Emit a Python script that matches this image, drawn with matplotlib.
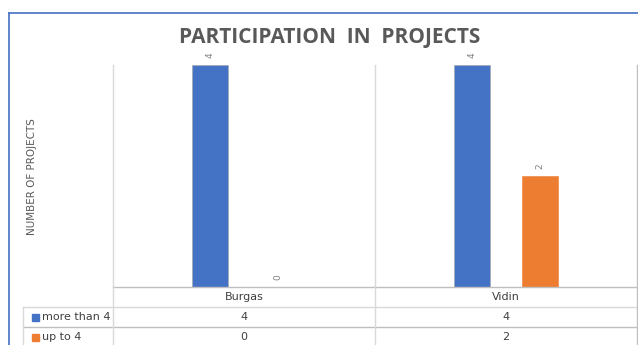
import matplotlib
matplotlib.use("Agg")
import matplotlib.pyplot as plt
from matplotlib.lines import Line2D
import numpy as np

categories = ["Burgas", "Vidin"]
series_names = ["more than 4", "up to 4"]
more_than_4 = [4, 4]
up_to_4 = [0, 2]
colors = ["#4472C4", "#ED7D31"]

W, H = 638, 345
fig = plt.figure(figsize=(W / 100, H / 100), dpi=100)

def fx(px):
    return px / W

def fy(py):
    return 1 - py / H

# plot area
x0, x1, y0, y1 = 113, 637, 65, 287
ax = fig.add_axes([fx(x0), fy(y1), fx(x1) - fx(x0), fy(y0) - fy(y1)])
ax.set_xlim(-0.5, len(categories) - 0.5)
ax.set_ylim(0, 4)
for s in ax.spines.values():
    s.set_visible(False)
ax.set_xticks([])
ax.set_yticks([])
ax.patch.set_alpha(0)

x = np.arange(len(categories))
bw = 0.137
offs = [-0.13, 0.13]
for vals, c, o in zip([more_than_4, up_to_4], colors, offs):
    ax.bar(x + o, vals, width=bw, color=c,
           edgecolor="#a6a6a6" if c == colors[0] else c, linewidth=0.4, zorder=2)
    for xi, v in zip(x + o, vals):
        ax.annotate(str(v), (xi, v), xytext=(0, 5), textcoords="offset points",
                    rotation=90, ha="center", va="bottom", fontsize=6.5, color="#7f7f7f",
                    annotation_clip=False)

gray = "#d9d9d9"
dark = "#bfbfbf"

def hline(y, xa, xb, c=gray, lw=1.0):
    fig.add_artist(Line2D([fx(xa), fx(xb)], [fy(y), fy(y)], color=c, linewidth=lw))

def vline(xp, ya, yb, c=gray, lw=1.0):
    fig.add_artist(Line2D([fx(xp), fx(xp)], [fy(ya), fy(yb)], color=c, linewidth=lw))

# category divider lines in plot area
vline(113, 65, 287)
vline(375, 65, 287)
vline(636.5, 65, 287, c=dark)

# data table
hline(287, 113, 637, c=dark)
hline(307, 23, 637)
hline(327, 23, 637, c=dark)
vline(23, 307, 345)
for xp in [113, 375]:
    vline(xp, 287, 345)
vline(636.5, 287, 345, c=dark)

cat_cx = [244, 506]
txtc = "#404040"
for cx, cat in zip(cat_cx, categories):
    fig.text(fx(cx), fy(297), cat, ha="center", va="center", fontsize=8, color=txtc)
for r, (name, vals, c) in enumerate(zip(series_names, [more_than_4, up_to_4], colors)):
    yc = 317 + 20 * r
    fig.add_artist(plt.Rectangle((fx(32), fy(yc + 3.5)), fx(7), 7 / H, color=c,
                                 transform=fig.transFigure))
    fig.text(fx(42), fy(yc), name, ha="left", va="center", fontsize=8, color=txtc)
    for cx, v in zip(cat_cx, vals):
        fig.text(fx(cx), fy(yc), str(v), ha="center", va="center", fontsize=8, color=txtc)

# title
fig.text(fx(330), fy(37), "PARTICIPATION  IN  PROJECTS", ha="center", va="center",
         fontsize=15, fontweight="bold", color="#595959", family="Open Sans")

# y label
fig.text(fx(32), fy(177), "NUMBER OF PROJECTS", rotation=90, ha="center", va="center",
         fontsize=7.5, color="#595959")

# outer frame
frame = "#4472C4"
hline(13, 9, 638, c=frame, lw=1.2)
vline(9, 13, 345, c=frame, lw=1.2)

fig.savefig("out.png", dpi=100)
